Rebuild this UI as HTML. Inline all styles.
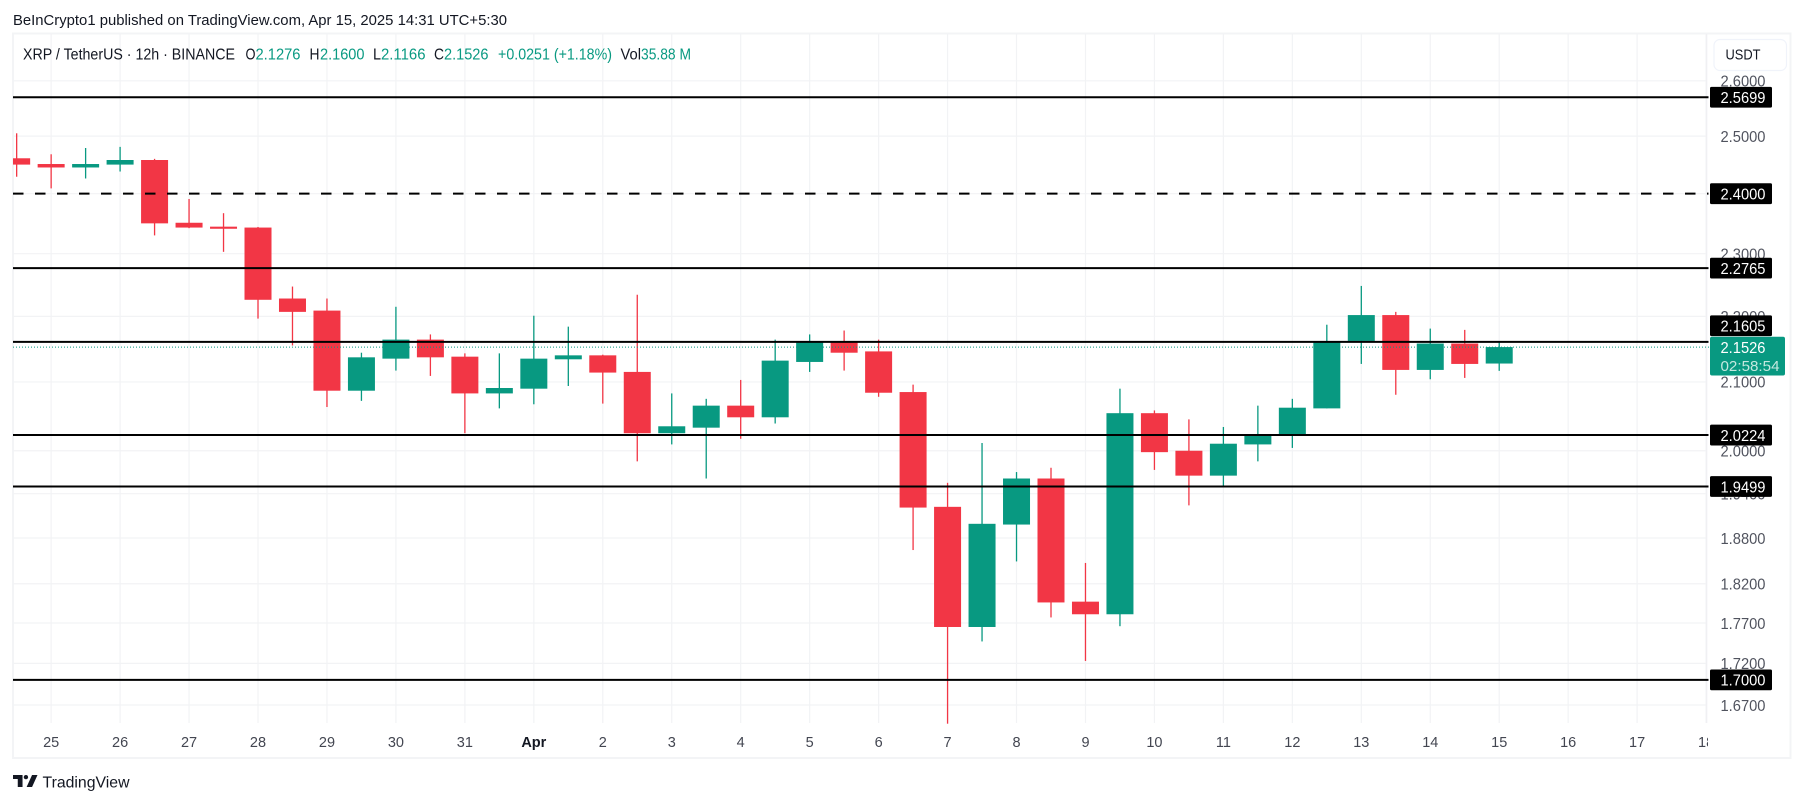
<!DOCTYPE html>
<html lang="en">
<head>
<meta charset="utf-8">
<title>XRP / TetherUS 12h chart</title>
<style>
html,body{margin:0;padding:0;background:#fff;width:1804px;height:803px;overflow:hidden}
svg{display:block;font-family:"Liberation Sans",sans-serif}
</style>
</head>
<body>
<svg id="chart" xmlns="http://www.w3.org/2000/svg" width="1804" height="803" viewBox="0 0 1804 803">
  <defs>
    <clipPath id="time-clip"><rect x="13" y="723" width="1695" height="34"/></clipPath>
    <clipPath id="pane-clip"><rect x="13" y="34" width="1694" height="690"/></clipPath>
  </defs>
  <rect x="0" y="0" width="1804" height="803" fill="#ffffff"/>
  <text x="13" y="25" font-size="15" fill="#131722" textLength="494" lengthAdjust="spacingAndGlyphs">BeInCrypto1 published on TradingView.com, Apr 15, 2025 14:31 UTC+5:30</text>
  <rect x="13" y="33.5" width="1777.5" height="724.5" fill="none" stroke="#f3f4f6" stroke-width="2"/>
  <g id="grid"></g>
  <line x1="1706.7" y1="34" x2="1706.7" y2="723" stroke="#eff0f3" stroke-width="1.2"/>
  <g id="y-ticks"></g>
  <g id="x-ticks" clip-path="url(#time-clip)"></g>
  <g id="candles" clip-path="url(#pane-clip)"></g>
  <g id="levels"></g>
  <g id="legend" font-size="15.5">
    <text x="23" y="59.5" fill="#131722" textLength="212" lengthAdjust="spacingAndGlyphs">XRP / TetherUS · 12h · BINANCE</text>
    <text x="245.5" y="59.5" fill="#131722" textLength="10" lengthAdjust="spacingAndGlyphs">O</text>
    <text x="255.5" y="59.5" fill="#089981" textLength="45" lengthAdjust="spacingAndGlyphs">2.1276</text>
    <text x="309.5" y="59.5" fill="#131722" textLength="10" lengthAdjust="spacingAndGlyphs">H</text>
    <text x="320" y="59.5" fill="#089981" textLength="44.5" lengthAdjust="spacingAndGlyphs">2.1600</text>
    <text x="373" y="59.5" fill="#131722" textLength="8" lengthAdjust="spacingAndGlyphs">L</text>
    <text x="381" y="59.5" fill="#089981" textLength="44.5" lengthAdjust="spacingAndGlyphs">2.1166</text>
    <text x="434" y="59.5" fill="#131722" textLength="10" lengthAdjust="spacingAndGlyphs">C</text>
    <text x="444" y="59.5" fill="#089981" textLength="44.5" lengthAdjust="spacingAndGlyphs">2.1526</text>
    <text x="498" y="59.5" fill="#089981" textLength="114" lengthAdjust="spacingAndGlyphs">+0.0251 (+1.18%)</text>
    <text x="620.5" y="59.5" fill="#131722" textLength="20.5" lengthAdjust="spacingAndGlyphs">Vol</text>
    <text x="641" y="59.5" fill="#089981" textLength="50" lengthAdjust="spacingAndGlyphs">35.88 M</text>
  </g>
  <g>
    <rect x="1714" y="39.5" width="72.5" height="31" rx="6" fill="#ffffff" stroke="#f0f3fa" stroke-width="1.2"/>
    <text x="1743" y="59.5" font-size="15" text-anchor="middle" fill="#131722" textLength="35" lengthAdjust="spacingAndGlyphs">USDT</text>
  </g>
  <g>
    <svg x="13" y="775" width="24.5" height="12" viewBox="0 0 36 18" preserveAspectRatio="none">
      <path d="M14 0H0v6h7v12h7z" fill="#131722"/>
      <circle cx="19" cy="3.2" r="3.2" fill="#131722"/>
      <path d="M28 0h8l-8 18h-8z" fill="#131722"/>
    </svg>
    <text x="42.5" y="787.5" font-size="16" fill="#131722" textLength="87" lengthAdjust="spacingAndGlyphs">TradingView</text>
  </g>
</svg>
<script>
// Candle data, oldest first (12h bars, XRP/USDT)
const opens  = [2.461,2.451,2.445,2.450,2.458,2.351,2.3445,2.343,2.228,2.209,2.087,2.135,2.164,2.138,2.083,2.090,2.134,2.140,2.115,2.025,2.033,2.065,2.048,2.130,2.161,2.146,2.085,1.922,1.765,1.898,1.961,1.797,1.781,2.054,2.000,1.965,2.009,2.023,2.061,2.162,2.202,2.118,2.158,2.1276];
const closes = [2.450,2.445,2.451,2.458,2.350,2.343,2.341,2.226,2.207,2.087,2.137,2.164,2.137,2.083,2.091,2.135,2.140,2.114,2.025,2.035,2.065,2.048,2.132,2.161,2.144,2.084,1.921,1.765,1.899,1.961,1.796,1.781,2.054,1.998,1.965,2.010,2.023,2.062,2.161,2.202,2.118,2.158,2.127,2.1526];
const highs  = [2.505,2.468,2.479,2.481,2.460,2.391,2.367,2.344,2.247,2.228,2.144,2.215,2.172,2.143,2.143,2.201,2.184,2.141,2.234,2.083,2.075,2.103,2.164,2.172,2.178,2.164,2.096,1.955,2.011,1.970,1.976,1.847,2.090,2.058,2.045,2.034,2.065,2.075,2.187,2.248,2.207,2.181,2.179,2.1600];
const lows   = [2.429,2.409,2.426,2.438,2.330,2.342,2.303,2.1965,2.155,2.063,2.072,2.117,2.109,2.025,2.061,2.067,2.094,2.068,1.985,2.009,1.961,2.017,2.039,2.115,2.117,2.078,1.864,1.648,1.747,1.849,1.777,1.723,1.766,1.973,1.924,1.950,1.985,2.004,2.061,2.127,2.081,2.104,2.106,2.1166];
const priceTickLabels = ["2.6000","2.5000","2.4000","2.3000","2.2000","2.1000","2.0000","1.9400","1.8800","1.8200","1.7700","1.7200","1.6700"];
const timeTickLabels = ["25","26","27","28","29","30","31","Apr","2","3","4","5","6","7","8","9","10","11","12","13","14","15","16","17","18"];
const boldTimeLabels = ["Apr"];
const levelValues = [2.5699,2.4000,2.2765,2.1605,2.0224,1.9499,1.7000];
const dashedLevels = [2.4000];
const countdownText = "02:58:54";

// Axis functions
function yScale(p){ return 705 - 1410 * Math.log(p / 1.67); }
function xScale(i){ return 16.66 + 34.478 * i; }

const NS = "http://www.w3.org/2000/svg";
function make(parent, tag, attrs, text){
  const el = document.createElementNS(NS, tag);
  for (const k in attrs) el.setAttribute(k, attrs[k]);
  if (text !== undefined) el.textContent = text;
  parent.appendChild(el);
  return el;
}
const gridG = document.getElementById("grid");
const yG = document.getElementById("y-ticks");
const xG = document.getElementById("x-ticks");
const candleG = document.getElementById("candles");
const levelG = document.getElementById("levels");
const GRID = "#f2f3f5";

priceTickLabels.forEach(function(label){
  const y = yScale(parseFloat(label));
  const g = make(gridG, "line", {x1:13, x2:1706.7, y1:y, y2:y, stroke:GRID, "stroke-width":1.2});
  
  
  const t = make(yG, "text", {x:1720.5, y:y+5.8, "font-size":15.5, fill:"#50535e", textLength:45, lengthAdjust:"spacingAndGlyphs"}, label);
  
  
});

timeTickLabels.forEach(function(label, n){
  const x = xScale(1 + 2 * n);
  const g = make(gridG, "line", {x1:x, x2:x, y1:34, y2:723, stroke:GRID, "stroke-width":1.2});
  
  
  const bold = boldTimeLabels.indexOf(label) >= 0;
  const t = make(xG, "text", {x:x, y:747, "font-size":14.5, "text-anchor":"middle", fill: bold ? "#131722" : "#434651", "font-weight": bold ? "bold" : "normal"}, label);
  
  
});

const UP = "#089981", DOWN = "#f23645";
opens.forEach(function(o, i){
  const c = closes[i];
  const color = c >= o ? UP : DOWN;
  const x = xScale(i);
  const g = make(candleG, "g", {});
  
  
  const wick = make(g, "rect", {x:x-0.65, width:1.3, y:yScale(highs[i]), height:yScale(lows[i])-yScale(highs[i]), fill:color});
  
  
  const top = yScale(Math.max(o, c)), bot = yScale(Math.min(o, c));
  const body = make(g, "rect", {x:x-13.5, width:27, y:top, height:Math.max(bot-top, 1), fill:color});
  
  
});

const lastClose = closes[closes.length - 1];
const lastY = yScale(lastClose);
const lastTop = lastY - 10.3;

levelValues.forEach(function(v){
  const y = yScale(v);
  const dashed = dashedLevels.indexOf(v) >= 0;
  const line = make(levelG, "line", {x1:13, x2:1708.5, y1:y, y2:y, stroke:"#000000", "stroke-width":2, "stroke-dasharray": dashed ? "10.5 11.5" : "none"});
  
  
});

const priceLine = make(levelG, "line", {x1:13, x2:1710, y1:lastY, y2:lastY, stroke:UP, "stroke-width":1, "stroke-dasharray":"1 2"});



levelValues.forEach(function(v){
  const y = yScale(v);
  // labels that would collide with the live price tag get pushed above it
  const cy = (y > lastTop - 11 && y < lastTop + 40) ? lastTop - 11 : y;
  const box = make(levelG, "rect", {x:1710, y:cy-10.4, width:62, height:20.8, rx:1.5, fill:"#000000"});
  
  
  const t = make(levelG, "text", {x:1720.5, y:cy+5.8, "font-size":15.5, fill:"#ffffff", textLength:45, lengthAdjust:"spacingAndGlyphs"}, v.toFixed(4));
  
  
});

const tagBox = make(levelG, "rect", {x:1710, y:lastTop, width:75, height:38.7, rx:2, fill:UP});


const tagPrice = make(levelG, "text", {x:1720.5, y:lastY+5.8, "font-size":15.5, fill:"#ffffff", textLength:45, lengthAdjust:"spacingAndGlyphs"}, lastClose.toFixed(4));


const tagCount = make(levelG, "text", {x:1720.5, y:lastY+23.8, "font-size":15, fill:"#c4e8df", textLength:59, lengthAdjust:"spacingAndGlyphs"}, countdownText);


</script>
</body>
</html>
